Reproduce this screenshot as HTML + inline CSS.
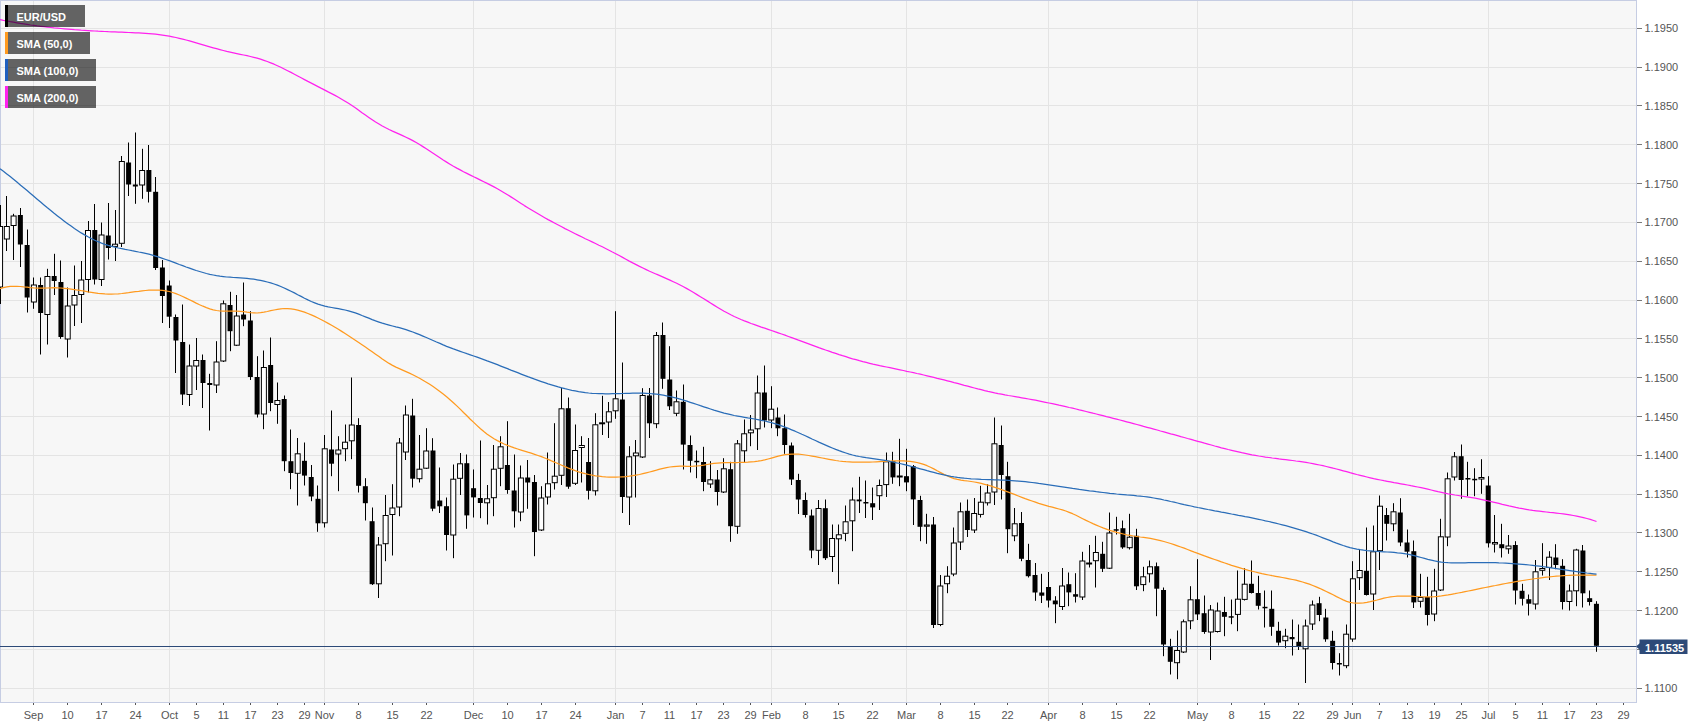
<!DOCTYPE html><html><head><meta charset="utf-8"><title>EUR/USD</title><style>
html,body{margin:0;padding:0;background:#fff;}body{width:1707px;height:728px;overflow:hidden;position:relative;font-family:"Liberation Sans",Arial,sans-serif;}
svg{position:absolute;left:0;top:0;}text{font-family:"Liberation Sans",Arial,sans-serif;}
.ax{font-size:11px;fill:#555;}.lg{font-size:11px;font-weight:bold;fill:#fff;}
</style></head><body>
<svg width="1707" height="728" viewBox="0 0 1707 728">
<rect x="0" y="0" width="1707" height="728" fill="#fff"/>
<rect x="0.5" y="0.5" width="1636" height="702" fill="#f7f7f7" stroke="#c6cde3" stroke-width="1"/>
<g stroke="#e4e4e4" stroke-width="1" shape-rendering="crispEdges">
<line x1="1" y1="28.5" x2="1636" y2="28.5"/>
<line x1="1" y1="67.5" x2="1636" y2="67.5"/>
<line x1="1" y1="105.5" x2="1636" y2="105.5"/>
<line x1="1" y1="144.5" x2="1636" y2="144.5"/>
<line x1="1" y1="183.5" x2="1636" y2="183.5"/>
<line x1="1" y1="222.5" x2="1636" y2="222.5"/>
<line x1="1" y1="261.5" x2="1636" y2="261.5"/>
<line x1="1" y1="300.5" x2="1636" y2="300.5"/>
<line x1="1" y1="338.5" x2="1636" y2="338.5"/>
<line x1="1" y1="377.5" x2="1636" y2="377.5"/>
<line x1="1" y1="416.5" x2="1636" y2="416.5"/>
<line x1="1" y1="455.5" x2="1636" y2="455.5"/>
<line x1="1" y1="494.5" x2="1636" y2="494.5"/>
<line x1="1" y1="532.5" x2="1636" y2="532.5"/>
<line x1="1" y1="571.5" x2="1636" y2="571.5"/>
<line x1="1" y1="610.5" x2="1636" y2="610.5"/>
<line x1="1" y1="649.5" x2="1636" y2="649.5"/>
<line x1="1" y1="688.5" x2="1636" y2="688.5"/>
<line x1="33.5" y1="1" x2="33.5" y2="702"/>
<line x1="169.5" y1="1" x2="169.5" y2="702"/>
<line x1="324.5" y1="1" x2="324.5" y2="702"/>
<line x1="473.5" y1="1" x2="473.5" y2="702"/>
<line x1="615.5" y1="1" x2="615.5" y2="702"/>
<line x1="771.5" y1="1" x2="771.5" y2="702"/>
<line x1="906.5" y1="1" x2="906.5" y2="702"/>
<line x1="1048.5" y1="1" x2="1048.5" y2="702"/>
<line x1="1197.5" y1="1" x2="1197.5" y2="702"/>
<line x1="1352.5" y1="1" x2="1352.5" y2="702"/>
<line x1="1488.5" y1="1" x2="1488.5" y2="702"/>
</g>
<g stroke="#7a7a7a" stroke-width="1" shape-rendering="crispEdges">
<line x1="1637" y1="28.5" x2="1642" y2="28.5"/>
<line x1="1637" y1="67.5" x2="1642" y2="67.5"/>
<line x1="1637" y1="105.5" x2="1642" y2="105.5"/>
<line x1="1637" y1="144.5" x2="1642" y2="144.5"/>
<line x1="1637" y1="183.5" x2="1642" y2="183.5"/>
<line x1="1637" y1="222.5" x2="1642" y2="222.5"/>
<line x1="1637" y1="261.5" x2="1642" y2="261.5"/>
<line x1="1637" y1="300.5" x2="1642" y2="300.5"/>
<line x1="1637" y1="338.5" x2="1642" y2="338.5"/>
<line x1="1637" y1="377.5" x2="1642" y2="377.5"/>
<line x1="1637" y1="416.5" x2="1642" y2="416.5"/>
<line x1="1637" y1="455.5" x2="1642" y2="455.5"/>
<line x1="1637" y1="494.5" x2="1642" y2="494.5"/>
<line x1="1637" y1="532.5" x2="1642" y2="532.5"/>
<line x1="1637" y1="571.5" x2="1642" y2="571.5"/>
<line x1="1637" y1="610.5" x2="1642" y2="610.5"/>
<line x1="1637" y1="649.5" x2="1642" y2="649.5"/>
<line x1="1637" y1="688.5" x2="1642" y2="688.5"/>
<line x1="33.5" y1="703" x2="33.5" y2="705" stroke="#555"/>
<line x1="67.5" y1="703" x2="67.5" y2="705" stroke="#555"/>
<line x1="101.5" y1="703" x2="101.5" y2="705" stroke="#555"/>
<line x1="135.5" y1="703" x2="135.5" y2="705" stroke="#555"/>
<line x1="169.5" y1="703" x2="169.5" y2="705" stroke="#555"/>
<line x1="196.5" y1="703" x2="196.5" y2="705" stroke="#555"/>
<line x1="223.5" y1="703" x2="223.5" y2="705" stroke="#555"/>
<line x1="250.5" y1="703" x2="250.5" y2="705" stroke="#555"/>
<line x1="277.5" y1="703" x2="277.5" y2="705" stroke="#555"/>
<line x1="304.5" y1="703" x2="304.5" y2="705" stroke="#555"/>
<line x1="324.5" y1="703" x2="324.5" y2="705" stroke="#555"/>
<line x1="358.5" y1="703" x2="358.5" y2="705" stroke="#555"/>
<line x1="392.5" y1="703" x2="392.5" y2="705" stroke="#555"/>
<line x1="426.5" y1="703" x2="426.5" y2="705" stroke="#555"/>
<line x1="473.5" y1="703" x2="473.5" y2="705" stroke="#555"/>
<line x1="507.5" y1="703" x2="507.5" y2="705" stroke="#555"/>
<line x1="541.5" y1="703" x2="541.5" y2="705" stroke="#555"/>
<line x1="575.5" y1="703" x2="575.5" y2="705" stroke="#555"/>
<line x1="615.5" y1="703" x2="615.5" y2="705" stroke="#555"/>
<line x1="642.5" y1="703" x2="642.5" y2="705" stroke="#555"/>
<line x1="669.5" y1="703" x2="669.5" y2="705" stroke="#555"/>
<line x1="696.5" y1="703" x2="696.5" y2="705" stroke="#555"/>
<line x1="723.5" y1="703" x2="723.5" y2="705" stroke="#555"/>
<line x1="750.5" y1="703" x2="750.5" y2="705" stroke="#555"/>
<line x1="771.5" y1="703" x2="771.5" y2="705" stroke="#555"/>
<line x1="805.5" y1="703" x2="805.5" y2="705" stroke="#555"/>
<line x1="838.5" y1="703" x2="838.5" y2="705" stroke="#555"/>
<line x1="872.5" y1="703" x2="872.5" y2="705" stroke="#555"/>
<line x1="906.5" y1="703" x2="906.5" y2="705" stroke="#555"/>
<line x1="940.5" y1="703" x2="940.5" y2="705" stroke="#555"/>
<line x1="974.5" y1="703" x2="974.5" y2="705" stroke="#555"/>
<line x1="1007.5" y1="703" x2="1007.5" y2="705" stroke="#555"/>
<line x1="1048.5" y1="703" x2="1048.5" y2="705" stroke="#555"/>
<line x1="1082.5" y1="703" x2="1082.5" y2="705" stroke="#555"/>
<line x1="1116.5" y1="703" x2="1116.5" y2="705" stroke="#555"/>
<line x1="1149.5" y1="703" x2="1149.5" y2="705" stroke="#555"/>
<line x1="1197.5" y1="703" x2="1197.5" y2="705" stroke="#555"/>
<line x1="1231.5" y1="703" x2="1231.5" y2="705" stroke="#555"/>
<line x1="1264.5" y1="703" x2="1264.5" y2="705" stroke="#555"/>
<line x1="1298.5" y1="703" x2="1298.5" y2="705" stroke="#555"/>
<line x1="1332.5" y1="703" x2="1332.5" y2="705" stroke="#555"/>
<line x1="1352.5" y1="703" x2="1352.5" y2="705" stroke="#555"/>
<line x1="1379.5" y1="703" x2="1379.5" y2="705" stroke="#555"/>
<line x1="1407.5" y1="703" x2="1407.5" y2="705" stroke="#555"/>
<line x1="1434.5" y1="703" x2="1434.5" y2="705" stroke="#555"/>
<line x1="1461.5" y1="703" x2="1461.5" y2="705" stroke="#555"/>
<line x1="1488.5" y1="703" x2="1488.5" y2="705" stroke="#555"/>
<line x1="1515.5" y1="703" x2="1515.5" y2="705" stroke="#555"/>
<line x1="1542.5" y1="703" x2="1542.5" y2="705" stroke="#555"/>
<line x1="1569.5" y1="703" x2="1569.5" y2="705" stroke="#555"/>
<line x1="1596.5" y1="703" x2="1596.5" y2="705" stroke="#555"/>
<line x1="1623.5" y1="703" x2="1623.5" y2="705" stroke="#555"/>
</g>
<g stroke="#000" stroke-width="1">
<line x1="0.5" y1="205.0" x2="0.5" y2="304.0"/>
<rect x="-2.43" y="226.5" width="5" height="60.5" fill="#fff"/>
<line x1="6.5" y1="196.0" x2="6.5" y2="251.0"/>
<rect x="4.33" y="226.5" width="5" height="12.5" fill="#fff"/>
<line x1="13.5" y1="213.8" x2="13.5" y2="260.0"/>
<rect x="11.10" y="216.0" width="5" height="9.5" fill="#fff"/>
<line x1="20.5" y1="208.0" x2="20.5" y2="267.0"/>
<rect x="17.86" y="215.0" width="5" height="29.5" fill="#000" stroke="none"/>
<line x1="27.5" y1="229.5" x2="27.5" y2="312.5"/>
<rect x="24.63" y="245.0" width="5" height="52.5" fill="#000" stroke="none"/>
<line x1="33.5" y1="277.5" x2="33.5" y2="308.8"/>
<rect x="31.39" y="285.0" width="5" height="17.0" fill="#fff"/>
<line x1="40.5" y1="277.5" x2="40.5" y2="354.5"/>
<rect x="38.15" y="285.0" width="5" height="28.0" fill="#000" stroke="none"/>
<line x1="47.5" y1="268.8" x2="47.5" y2="344.5"/>
<rect x="44.92" y="276.5" width="5" height="38.0" fill="#fff"/>
<line x1="54.5" y1="253.8" x2="54.5" y2="295.0"/>
<rect x="51.68" y="276.0" width="5" height="5.0" fill="#000" stroke="none"/>
<line x1="60.5" y1="260.5" x2="60.5" y2="338.8"/>
<rect x="58.45" y="282.0" width="5" height="55.0" fill="#000" stroke="none"/>
<line x1="67.5" y1="287.5" x2="67.5" y2="357.5"/>
<rect x="65.21" y="306.0" width="5" height="33.0" fill="#fff"/>
<line x1="74.5" y1="265.5" x2="74.5" y2="326.0"/>
<rect x="71.98" y="295.5" width="5" height="9.5" fill="#fff"/>
<line x1="81.5" y1="261.0" x2="81.5" y2="323.0"/>
<rect x="78.74" y="280.0" width="5" height="14.5" fill="#fff"/>
<line x1="88.5" y1="221.0" x2="88.5" y2="292.5"/>
<rect x="85.50" y="230.5" width="5" height="49.0" fill="#fff"/>
<line x1="94.5" y1="204.0" x2="94.5" y2="284.5"/>
<rect x="92.27" y="230.0" width="5" height="49.5" fill="#000" stroke="none"/>
<line x1="101.5" y1="222.5" x2="101.5" y2="286.0"/>
<rect x="99.03" y="235.0" width="5" height="44.5" fill="#fff"/>
<line x1="108.5" y1="203.0" x2="108.5" y2="259.5"/>
<rect x="105.80" y="235.5" width="5" height="12.5" fill="#000" stroke="none"/>
<line x1="115.5" y1="210.0" x2="115.5" y2="261.0"/>
<rect x="112.56" y="244.2" width="5" height="2.2" fill="#fff"/>
<line x1="121.5" y1="156.0" x2="121.5" y2="247.0"/>
<rect x="119.33" y="161.5" width="5" height="81.8" fill="#fff"/>
<line x1="128.5" y1="142.5" x2="128.5" y2="196.0"/>
<rect x="126.09" y="162.5" width="5" height="22.0" fill="#000" stroke="none"/>
<line x1="135.5" y1="132.5" x2="135.5" y2="203.8"/>
<rect x="132.85" y="184.5" width="5" height="2.0" fill="#000" stroke="none"/>
<line x1="142.5" y1="148.8" x2="142.5" y2="198.8"/>
<rect x="139.62" y="170.5" width="5" height="14.5" fill="#fff"/>
<line x1="148.5" y1="145.0" x2="148.5" y2="202.5"/>
<rect x="146.38" y="170.0" width="5" height="21.8" fill="#000" stroke="none"/>
<line x1="155.5" y1="177.0" x2="155.5" y2="270.0"/>
<rect x="153.15" y="191.8" width="5" height="76.2" fill="#000" stroke="none"/>
<line x1="162.5" y1="260.0" x2="162.5" y2="323.0"/>
<rect x="159.91" y="267.5" width="5" height="28.5" fill="#000" stroke="none"/>
<line x1="169.5" y1="280.5" x2="169.5" y2="328.0"/>
<rect x="166.68" y="285.5" width="5" height="31.2" fill="#000" stroke="none"/>
<line x1="175.5" y1="314.5" x2="175.5" y2="373.0"/>
<rect x="173.44" y="317.0" width="5" height="23.5" fill="#000" stroke="none"/>
<line x1="182.5" y1="304.5" x2="182.5" y2="405.0"/>
<rect x="180.20" y="342.0" width="5" height="52.5" fill="#000" stroke="none"/>
<line x1="189.5" y1="344.5" x2="189.5" y2="406.0"/>
<rect x="186.97" y="366.0" width="5" height="28.5" fill="#fff"/>
<line x1="196.5" y1="338.0" x2="196.5" y2="390.0"/>
<rect x="193.73" y="360.5" width="5" height="5.5" fill="#fff"/>
<line x1="202.5" y1="354.5" x2="202.5" y2="408.0"/>
<rect x="200.50" y="360.0" width="5" height="23.0" fill="#000" stroke="none"/>
<line x1="209.5" y1="373.8" x2="209.5" y2="430.5"/>
<rect x="207.26" y="383.0" width="5" height="2.0" fill="#000" stroke="none"/>
<line x1="216.5" y1="341.2" x2="216.5" y2="393.0"/>
<rect x="214.03" y="362.0" width="5" height="23.0" fill="#fff"/>
<line x1="223.5" y1="300.5" x2="223.5" y2="362.0"/>
<rect x="220.79" y="303.8" width="5" height="57.2" fill="#fff"/>
<line x1="230.5" y1="291.8" x2="230.5" y2="351.2"/>
<rect x="227.55" y="305.0" width="5" height="26.2" fill="#000" stroke="none"/>
<line x1="236.5" y1="295.0" x2="236.5" y2="346.0"/>
<rect x="234.32" y="316.0" width="5" height="29.2" fill="#fff"/>
<line x1="243.5" y1="282.5" x2="243.5" y2="326.2"/>
<rect x="241.08" y="314.5" width="5" height="5.0" fill="#000" stroke="none"/>
<line x1="250.5" y1="311.2" x2="250.5" y2="380.0"/>
<rect x="247.85" y="320.5" width="5" height="56.5" fill="#000" stroke="none"/>
<line x1="257.5" y1="356.2" x2="257.5" y2="417.5"/>
<rect x="254.61" y="377.0" width="5" height="37.5" fill="#000" stroke="none"/>
<line x1="263.5" y1="350.5" x2="263.5" y2="429.2"/>
<rect x="261.38" y="367.5" width="5" height="46.5" fill="#fff"/>
<line x1="270.5" y1="337.5" x2="270.5" y2="411.2"/>
<rect x="268.14" y="365.0" width="5" height="38.0" fill="#000" stroke="none"/>
<line x1="277.5" y1="382.5" x2="277.5" y2="423.8"/>
<rect x="274.90" y="400.5" width="5" height="4.0" fill="#fff"/>
<line x1="284.5" y1="395.5" x2="284.5" y2="471.2"/>
<rect x="281.67" y="399.0" width="5" height="62.2" fill="#000" stroke="none"/>
<line x1="290.5" y1="429.5" x2="290.5" y2="489.2"/>
<rect x="288.43" y="461.2" width="5" height="11.8" fill="#000" stroke="none"/>
<line x1="297.5" y1="438.0" x2="297.5" y2="505.5"/>
<rect x="295.20" y="453.8" width="5" height="19.5" fill="#fff"/>
<line x1="304.5" y1="442.5" x2="304.5" y2="485.5"/>
<rect x="301.96" y="460.8" width="5" height="14.8" fill="#000" stroke="none"/>
<line x1="311.5" y1="465.0" x2="311.5" y2="501.2"/>
<rect x="308.73" y="477.0" width="5" height="19.5" fill="#000" stroke="none"/>
<line x1="317.5" y1="485.5" x2="317.5" y2="531.8"/>
<rect x="315.49" y="498.8" width="5" height="24.5" fill="#000" stroke="none"/>
<line x1="324.5" y1="435.0" x2="324.5" y2="527.5"/>
<rect x="322.25" y="448.8" width="5" height="74.0" fill="#fff"/>
<line x1="331.5" y1="410.5" x2="331.5" y2="476.2"/>
<rect x="329.02" y="449.5" width="5" height="14.2" fill="#000" stroke="none"/>
<line x1="338.5" y1="436.2" x2="338.5" y2="491.2"/>
<rect x="335.78" y="450.0" width="5" height="4.0" fill="#fff"/>
<line x1="345.5" y1="424.5" x2="345.5" y2="461.2"/>
<rect x="342.55" y="442.2" width="5" height="6.5" fill="#fff"/>
<line x1="351.5" y1="377.5" x2="351.5" y2="459.2"/>
<rect x="349.31" y="425.0" width="5" height="15.8" fill="#fff"/>
<line x1="358.5" y1="418.2" x2="358.5" y2="492.5"/>
<rect x="356.08" y="425.0" width="5" height="60.8" fill="#000" stroke="none"/>
<line x1="365.5" y1="478.2" x2="365.5" y2="520.5"/>
<rect x="362.84" y="486.2" width="5" height="17.0" fill="#000" stroke="none"/>
<line x1="372.5" y1="507.5" x2="372.5" y2="585.0"/>
<rect x="369.61" y="521.2" width="5" height="63.0" fill="#000" stroke="none"/>
<line x1="378.5" y1="537.0" x2="378.5" y2="598.0"/>
<rect x="376.37" y="545.0" width="5" height="38.8" fill="#fff"/>
<line x1="385.5" y1="495.0" x2="385.5" y2="561.2"/>
<rect x="383.13" y="515.5" width="5" height="28.2" fill="#fff"/>
<line x1="392.5" y1="484.2" x2="392.5" y2="555.5"/>
<rect x="389.90" y="508.0" width="5" height="6.5" fill="#fff"/>
<line x1="399.5" y1="438.0" x2="399.5" y2="516.2"/>
<rect x="396.66" y="443.0" width="5" height="64.0" fill="#fff"/>
<line x1="405.5" y1="405.5" x2="405.5" y2="460.0"/>
<rect x="403.43" y="415.0" width="5" height="37.0" fill="#fff"/>
<line x1="412.5" y1="398.8" x2="412.5" y2="487.5"/>
<rect x="410.19" y="415.5" width="5" height="63.2" fill="#000" stroke="none"/>
<line x1="419.5" y1="435.0" x2="419.5" y2="482.5"/>
<rect x="416.96" y="469.2" width="5" height="9.5" fill="#fff"/>
<line x1="426.5" y1="428.2" x2="426.5" y2="469.0"/>
<rect x="423.72" y="451.0" width="5" height="17.2" fill="#fff"/>
<line x1="432.5" y1="438.2" x2="432.5" y2="511.2"/>
<rect x="430.48" y="450.5" width="5" height="58.2" fill="#000" stroke="none"/>
<line x1="439.5" y1="467.5" x2="439.5" y2="513.0"/>
<rect x="437.25" y="500.5" width="5" height="5.8" fill="#000" stroke="none"/>
<line x1="446.5" y1="497.5" x2="446.5" y2="550.5"/>
<rect x="444.01" y="506.2" width="5" height="28.8" fill="#000" stroke="none"/>
<line x1="453.5" y1="464.5" x2="453.5" y2="558.2"/>
<rect x="450.78" y="479.2" width="5" height="55.8" fill="#fff"/>
<line x1="460.5" y1="453.0" x2="460.5" y2="495.0"/>
<rect x="457.54" y="463.8" width="5" height="14.5" fill="#fff"/>
<line x1="466.5" y1="454.5" x2="466.5" y2="528.8"/>
<rect x="464.31" y="463.2" width="5" height="52.2" fill="#000" stroke="none"/>
<line x1="473.5" y1="469.5" x2="473.5" y2="517.5"/>
<rect x="471.07" y="488.2" width="5" height="9.2" fill="#000" stroke="none"/>
<line x1="480.5" y1="440.5" x2="480.5" y2="518.2"/>
<rect x="477.83" y="498.0" width="5" height="5.0" fill="#000" stroke="none"/>
<line x1="487.5" y1="485.0" x2="487.5" y2="524.5"/>
<rect x="484.60" y="498.8" width="5" height="4.0" fill="#fff"/>
<line x1="493.5" y1="445.0" x2="493.5" y2="516.2"/>
<rect x="491.36" y="469.2" width="5" height="28.5" fill="#fff"/>
<line x1="500.5" y1="436.2" x2="500.5" y2="486.2"/>
<rect x="498.13" y="446.8" width="5" height="21.5" fill="#fff"/>
<line x1="507.5" y1="421.2" x2="507.5" y2="493.8"/>
<rect x="504.89" y="465.0" width="5" height="25.0" fill="#000" stroke="none"/>
<line x1="514.5" y1="454.5" x2="514.5" y2="527.5"/>
<rect x="511.66" y="490.5" width="5" height="20.8" fill="#000" stroke="none"/>
<line x1="520.5" y1="465.5" x2="520.5" y2="521.2"/>
<rect x="518.42" y="478.0" width="5" height="34.0" fill="#fff"/>
<line x1="527.5" y1="460.0" x2="527.5" y2="508.8"/>
<rect x="525.18" y="477.5" width="5" height="5.0" fill="#000" stroke="none"/>
<line x1="534.5" y1="475.0" x2="534.5" y2="556.2"/>
<rect x="531.95" y="482.0" width="5" height="50.0" fill="#000" stroke="none"/>
<line x1="541.5" y1="486.2" x2="541.5" y2="531.0"/>
<rect x="538.71" y="498.0" width="5" height="32.0" fill="#fff"/>
<line x1="547.5" y1="452.5" x2="547.5" y2="504.5"/>
<rect x="545.48" y="483.8" width="5" height="13.2" fill="#fff"/>
<line x1="554.5" y1="423.2" x2="554.5" y2="489.5"/>
<rect x="552.24" y="476.2" width="5" height="6.5" fill="#fff"/>
<line x1="561.5" y1="388.0" x2="561.5" y2="485.0"/>
<rect x="559.01" y="408.8" width="5" height="66.5" fill="#fff"/>
<line x1="568.5" y1="397.5" x2="568.5" y2="488.8"/>
<rect x="565.77" y="408.2" width="5" height="78.5" fill="#000" stroke="none"/>
<line x1="575.5" y1="424.5" x2="575.5" y2="485.0"/>
<rect x="572.53" y="450.5" width="5" height="32.8" fill="#fff"/>
<line x1="581.5" y1="436.2" x2="581.5" y2="482.5"/>
<rect x="579.30" y="445.5" width="5" height="2.0" fill="#fff"/>
<line x1="588.5" y1="438.0" x2="588.5" y2="499.5"/>
<rect x="586.06" y="462.0" width="5" height="28.8" fill="#000" stroke="none"/>
<line x1="595.5" y1="413.2" x2="595.5" y2="495.5"/>
<rect x="592.83" y="424.8" width="5" height="66.0" fill="#fff"/>
<line x1="602.5" y1="395.8" x2="602.5" y2="435.0"/>
<rect x="599.59" y="422.8" width="5" height="1.0" fill="#fff"/>
<line x1="608.5" y1="402.0" x2="608.5" y2="438.0"/>
<rect x="606.36" y="411.8" width="5" height="10.2" fill="#fff"/>
<line x1="615.5" y1="311.2" x2="615.5" y2="418.8"/>
<rect x="613.12" y="398.8" width="5" height="12.0" fill="#fff"/>
<line x1="622.5" y1="362.5" x2="622.5" y2="513.0"/>
<rect x="619.88" y="399.5" width="5" height="97.5" fill="#000" stroke="none"/>
<line x1="629.5" y1="446.2" x2="629.5" y2="525.0"/>
<rect x="626.65" y="456.8" width="5" height="40.2" fill="#fff"/>
<line x1="635.5" y1="440.0" x2="635.5" y2="497.5"/>
<rect x="633.41" y="453.0" width="5" height="2.8" fill="#fff"/>
<line x1="642.5" y1="388.2" x2="642.5" y2="458.0"/>
<rect x="640.18" y="395.5" width="5" height="61.5" fill="#fff"/>
<line x1="649.5" y1="388.0" x2="649.5" y2="438.0"/>
<rect x="646.94" y="395.5" width="5" height="27.8" fill="#000" stroke="none"/>
<line x1="656.5" y1="332.0" x2="656.5" y2="428.2"/>
<rect x="653.71" y="335.5" width="5" height="88.2" fill="#fff"/>
<line x1="662.5" y1="322.5" x2="662.5" y2="388.8"/>
<rect x="660.47" y="335.0" width="5" height="43.8" fill="#000" stroke="none"/>
<line x1="669.5" y1="346.2" x2="669.5" y2="410.0"/>
<rect x="667.23" y="379.5" width="5" height="26.8" fill="#000" stroke="none"/>
<line x1="676.5" y1="390.5" x2="676.5" y2="416.2"/>
<rect x="674.00" y="401.8" width="5" height="11.5" fill="#fff"/>
<line x1="683.5" y1="384.5" x2="683.5" y2="469.5"/>
<rect x="680.76" y="401.8" width="5" height="42.8" fill="#000" stroke="none"/>
<line x1="690.5" y1="435.5" x2="690.5" y2="472.5"/>
<rect x="687.53" y="445.0" width="5" height="15.8" fill="#000" stroke="none"/>
<line x1="696.5" y1="450.5" x2="696.5" y2="478.2"/>
<rect x="694.29" y="460.8" width="5" height="1.5" fill="#000" stroke="none"/>
<line x1="703.5" y1="446.8" x2="703.5" y2="491.2"/>
<rect x="701.06" y="462.0" width="5" height="20.0" fill="#000" stroke="none"/>
<line x1="710.5" y1="461.2" x2="710.5" y2="488.0"/>
<rect x="707.82" y="479.8" width="5" height="4.2" fill="#fff"/>
<line x1="717.5" y1="470.0" x2="717.5" y2="505.5"/>
<rect x="714.58" y="479.5" width="5" height="12.5" fill="#000" stroke="none"/>
<line x1="723.5" y1="458.2" x2="723.5" y2="493.0"/>
<rect x="721.35" y="468.8" width="5" height="23.2" fill="#fff"/>
<line x1="730.5" y1="461.8" x2="730.5" y2="541.8"/>
<rect x="728.11" y="469.2" width="5" height="57.0" fill="#000" stroke="none"/>
<line x1="737.5" y1="440.0" x2="737.5" y2="533.8"/>
<rect x="734.88" y="443.8" width="5" height="82.5" fill="#fff"/>
<line x1="744.5" y1="419.5" x2="744.5" y2="462.0"/>
<rect x="741.64" y="433.8" width="5" height="17.0" fill="#fff"/>
<line x1="750.5" y1="415.0" x2="750.5" y2="446.2"/>
<rect x="748.41" y="430.0" width="5" height="2.8" fill="#fff"/>
<line x1="757.5" y1="375.5" x2="757.5" y2="450.0"/>
<rect x="755.17" y="393.0" width="5" height="35.8" fill="#fff"/>
<line x1="764.5" y1="365.5" x2="764.5" y2="427.5"/>
<rect x="761.93" y="392.5" width="5" height="28.0" fill="#000" stroke="none"/>
<line x1="771.5" y1="386.2" x2="771.5" y2="428.2"/>
<rect x="768.70" y="409.2" width="5" height="10.8" fill="#fff"/>
<line x1="777.5" y1="407.5" x2="777.5" y2="436.2"/>
<rect x="775.46" y="417.5" width="5" height="10.8" fill="#000" stroke="none"/>
<line x1="784.5" y1="414.5" x2="784.5" y2="453.8"/>
<rect x="782.23" y="428.2" width="5" height="16.8" fill="#000" stroke="none"/>
<line x1="791.5" y1="442.5" x2="791.5" y2="485.0"/>
<rect x="788.99" y="445.5" width="5" height="34.0" fill="#000" stroke="none"/>
<line x1="798.5" y1="473.8" x2="798.5" y2="514.0"/>
<rect x="795.76" y="480.0" width="5" height="19.5" fill="#000" stroke="none"/>
<line x1="805.5" y1="492.5" x2="805.5" y2="517.5"/>
<rect x="802.52" y="500.0" width="5" height="15.0" fill="#000" stroke="none"/>
<line x1="811.5" y1="509.5" x2="811.5" y2="558.2"/>
<rect x="809.28" y="515.5" width="5" height="35.0" fill="#000" stroke="none"/>
<line x1="818.5" y1="500.0" x2="818.5" y2="565.0"/>
<rect x="816.05" y="508.5" width="5" height="41.8" fill="#fff"/>
<line x1="825.5" y1="499.5" x2="825.5" y2="560.0"/>
<rect x="822.81" y="508.2" width="5" height="50.0" fill="#000" stroke="none"/>
<line x1="832.5" y1="524.5" x2="832.5" y2="572.0"/>
<rect x="829.58" y="538.5" width="5" height="18.0" fill="#fff"/>
<line x1="838.5" y1="524.5" x2="838.5" y2="584.2"/>
<rect x="836.34" y="534.8" width="5" height="4.0" fill="#fff"/>
<line x1="845.5" y1="505.5" x2="845.5" y2="541.2"/>
<rect x="843.11" y="521.8" width="5" height="11.5" fill="#fff"/>
<line x1="852.5" y1="487.5" x2="852.5" y2="551.2"/>
<rect x="849.87" y="500.0" width="5" height="20.8" fill="#fff"/>
<line x1="859.5" y1="476.8" x2="859.5" y2="513.0"/>
<rect x="856.63" y="499.5" width="5" height="1.8" fill="#000" stroke="none"/>
<line x1="865.5" y1="480.5" x2="865.5" y2="518.0"/>
<rect x="863.40" y="502.0" width="5" height="1.5" fill="#000" stroke="none"/>
<line x1="872.5" y1="487.5" x2="872.5" y2="520.0"/>
<rect x="870.16" y="503.2" width="5" height="4.2" fill="#000" stroke="none"/>
<line x1="879.5" y1="479.5" x2="879.5" y2="510.0"/>
<rect x="876.93" y="485.5" width="5" height="10.2" fill="#fff"/>
<line x1="886.5" y1="452.5" x2="886.5" y2="497.0"/>
<rect x="883.69" y="461.8" width="5" height="22.8" fill="#fff"/>
<line x1="892.5" y1="451.8" x2="892.5" y2="483.8"/>
<rect x="890.46" y="461.2" width="5" height="16.2" fill="#000" stroke="none"/>
<line x1="899.5" y1="438.8" x2="899.5" y2="486.2"/>
<rect x="897.22" y="476.0" width="5" height="1.0" fill="#fff"/>
<line x1="906.5" y1="448.8" x2="906.5" y2="491.2"/>
<rect x="903.98" y="476.2" width="5" height="6.2" fill="#000" stroke="none"/>
<line x1="913.5" y1="465.0" x2="913.5" y2="525.0"/>
<rect x="910.75" y="466.2" width="5" height="33.2" fill="#000" stroke="none"/>
<line x1="920.5" y1="495.8" x2="920.5" y2="541.2"/>
<rect x="917.51" y="500.0" width="5" height="26.8" fill="#000" stroke="none"/>
<line x1="926.5" y1="513.8" x2="926.5" y2="543.8"/>
<rect x="924.28" y="525.0" width="5" height="1.2" fill="#fff"/>
<line x1="933.5" y1="517.0" x2="933.5" y2="628.0"/>
<rect x="931.04" y="524.5" width="5" height="100.5" fill="#000" stroke="none"/>
<line x1="940.5" y1="575.0" x2="940.5" y2="626.2"/>
<rect x="937.81" y="586.0" width="5" height="38.5" fill="#fff"/>
<line x1="947.5" y1="566.2" x2="947.5" y2="593.2"/>
<rect x="944.57" y="576.2" width="5" height="7.5" fill="#fff"/>
<line x1="953.5" y1="527.5" x2="953.5" y2="576.2"/>
<rect x="951.33" y="543.0" width="5" height="31.0" fill="#fff"/>
<line x1="960.5" y1="502.5" x2="960.5" y2="550.0"/>
<rect x="958.10" y="511.8" width="5" height="30.2" fill="#fff"/>
<line x1="967.5" y1="499.5" x2="967.5" y2="537.0"/>
<rect x="964.86" y="510.8" width="5" height="19.2" fill="#000" stroke="none"/>
<line x1="974.5" y1="498.0" x2="974.5" y2="533.0"/>
<rect x="971.63" y="513.5" width="5" height="16.5" fill="#fff"/>
<line x1="980.5" y1="485.8" x2="980.5" y2="517.5"/>
<rect x="978.39" y="502.2" width="5" height="12.2" fill="#fff"/>
<line x1="987.5" y1="484.2" x2="987.5" y2="505.5"/>
<rect x="985.16" y="493.0" width="5" height="9.8" fill="#fff"/>
<line x1="994.5" y1="417.5" x2="994.5" y2="505.0"/>
<rect x="991.92" y="443.8" width="5" height="48.2" fill="#fff"/>
<line x1="1001.5" y1="425.5" x2="1001.5" y2="499.5"/>
<rect x="998.68" y="445.0" width="5" height="30.0" fill="#000" stroke="none"/>
<line x1="1007.5" y1="461.8" x2="1007.5" y2="553.2"/>
<rect x="1005.45" y="476.2" width="5" height="53.0" fill="#000" stroke="none"/>
<line x1="1014.5" y1="508.0" x2="1014.5" y2="541.2"/>
<rect x="1012.21" y="523.8" width="5" height="12.0" fill="#fff"/>
<line x1="1021.5" y1="512.0" x2="1021.5" y2="561.2"/>
<rect x="1018.98" y="523.0" width="5" height="35.8" fill="#000" stroke="none"/>
<line x1="1028.5" y1="543.8" x2="1028.5" y2="577.5"/>
<rect x="1025.74" y="560.0" width="5" height="16.2" fill="#000" stroke="none"/>
<line x1="1035.5" y1="563.0" x2="1035.5" y2="600.8"/>
<rect x="1032.51" y="575.0" width="5" height="17.5" fill="#000" stroke="none"/>
<line x1="1041.5" y1="573.8" x2="1041.5" y2="603.0"/>
<rect x="1039.27" y="592.5" width="5" height="3.2" fill="#000" stroke="none"/>
<line x1="1048.5" y1="572.0" x2="1048.5" y2="607.5"/>
<rect x="1046.04" y="587.0" width="5" height="13.5" fill="#000" stroke="none"/>
<line x1="1055.5" y1="596.2" x2="1055.5" y2="623.2"/>
<rect x="1052.80" y="600.5" width="5" height="3.8" fill="#000" stroke="none"/>
<line x1="1062.5" y1="568.0" x2="1062.5" y2="610.0"/>
<rect x="1059.56" y="586.0" width="5" height="20.5" fill="#fff"/>
<line x1="1068.5" y1="572.5" x2="1068.5" y2="606.2"/>
<rect x="1066.33" y="584.2" width="5" height="8.2" fill="#000" stroke="none"/>
<line x1="1075.5" y1="573.2" x2="1075.5" y2="602.5"/>
<rect x="1073.09" y="594.2" width="5" height="2.5" fill="#000" stroke="none"/>
<line x1="1082.5" y1="551.8" x2="1082.5" y2="600.0"/>
<rect x="1079.86" y="561.0" width="5" height="36.0" fill="#fff"/>
<line x1="1089.5" y1="545.0" x2="1089.5" y2="567.5"/>
<rect x="1086.62" y="563.0" width="5" height="1.0" fill="#fff"/>
<line x1="1095.5" y1="535.8" x2="1095.5" y2="587.5"/>
<rect x="1093.39" y="552.5" width="5" height="8.2" fill="#fff"/>
<line x1="1102.5" y1="541.8" x2="1102.5" y2="572.0"/>
<rect x="1100.15" y="553.8" width="5" height="15.0" fill="#000" stroke="none"/>
<line x1="1109.5" y1="512.5" x2="1109.5" y2="569.0"/>
<rect x="1106.91" y="533.0" width="5" height="35.2" fill="#fff"/>
<line x1="1116.5" y1="516.8" x2="1116.5" y2="534.5"/>
<rect x="1113.68" y="529.2" width="5" height="1.5" fill="#000" stroke="none"/>
<line x1="1122.5" y1="520.5" x2="1122.5" y2="548.8"/>
<rect x="1120.44" y="528.2" width="5" height="19.2" fill="#000" stroke="none"/>
<line x1="1129.5" y1="513.8" x2="1129.5" y2="549.5"/>
<rect x="1127.21" y="537.2" width="5" height="10.5" fill="#fff"/>
<line x1="1136.5" y1="528.8" x2="1136.5" y2="590.0"/>
<rect x="1133.97" y="535.8" width="5" height="50.5" fill="#000" stroke="none"/>
<line x1="1143.5" y1="566.8" x2="1143.5" y2="591.2"/>
<rect x="1140.74" y="576.8" width="5" height="7.8" fill="#fff"/>
<line x1="1149.5" y1="560.5" x2="1149.5" y2="582.5"/>
<rect x="1147.50" y="566.8" width="5" height="7.0" fill="#fff"/>
<line x1="1156.5" y1="562.5" x2="1156.5" y2="616.2"/>
<rect x="1154.26" y="566.2" width="5" height="22.5" fill="#000" stroke="none"/>
<line x1="1163.5" y1="587.5" x2="1163.5" y2="656.2"/>
<rect x="1161.03" y="590.0" width="5" height="54.5" fill="#000" stroke="none"/>
<line x1="1170.5" y1="638.8" x2="1170.5" y2="674.5"/>
<rect x="1167.79" y="647.0" width="5" height="14.8" fill="#000" stroke="none"/>
<line x1="1177.5" y1="630.5" x2="1177.5" y2="679.2"/>
<rect x="1174.56" y="650.5" width="5" height="12.2" fill="#fff"/>
<line x1="1183.5" y1="619.5" x2="1183.5" y2="653.0"/>
<rect x="1181.32" y="621.8" width="5" height="30.2" fill="#fff"/>
<line x1="1190.5" y1="586.2" x2="1190.5" y2="629.2"/>
<rect x="1188.09" y="599.8" width="5" height="21.0" fill="#fff"/>
<line x1="1197.5" y1="559.2" x2="1197.5" y2="620.0"/>
<rect x="1194.85" y="599.2" width="5" height="15.2" fill="#000" stroke="none"/>
<line x1="1204.5" y1="595.5" x2="1204.5" y2="633.8"/>
<rect x="1201.61" y="613.2" width="5" height="18.8" fill="#000" stroke="none"/>
<line x1="1210.5" y1="605.0" x2="1210.5" y2="660.0"/>
<rect x="1208.38" y="610.0" width="5" height="22.0" fill="#fff"/>
<line x1="1217.5" y1="602.5" x2="1217.5" y2="632.5"/>
<rect x="1215.14" y="611.0" width="5" height="20.5" fill="#fff"/>
<line x1="1224.5" y1="596.8" x2="1224.5" y2="636.2"/>
<rect x="1221.91" y="612.0" width="5" height="4.8" fill="#000" stroke="none"/>
<line x1="1231.5" y1="599.5" x2="1231.5" y2="624.2"/>
<rect x="1228.67" y="616.2" width="5" height="1.5" fill="#000" stroke="none"/>
<line x1="1237.5" y1="570.5" x2="1237.5" y2="631.2"/>
<rect x="1235.44" y="599.2" width="5" height="15.2" fill="#fff"/>
<line x1="1244.5" y1="568.2" x2="1244.5" y2="600.5"/>
<rect x="1242.20" y="584.2" width="5" height="15.2" fill="#fff"/>
<line x1="1251.5" y1="560.5" x2="1251.5" y2="593.5"/>
<rect x="1248.96" y="583.8" width="5" height="9.2" fill="#000" stroke="none"/>
<line x1="1258.5" y1="575.8" x2="1258.5" y2="609.5"/>
<rect x="1255.73" y="593.0" width="5" height="12.8" fill="#000" stroke="none"/>
<line x1="1264.5" y1="590.5" x2="1264.5" y2="627.5"/>
<rect x="1262.49" y="606.8" width="5" height="1.5" fill="#000" stroke="none"/>
<line x1="1271.5" y1="590.5" x2="1271.5" y2="635.8"/>
<rect x="1269.26" y="608.8" width="5" height="18.0" fill="#000" stroke="none"/>
<line x1="1278.5" y1="621.8" x2="1278.5" y2="645.5"/>
<rect x="1276.02" y="630.8" width="5" height="11.8" fill="#000" stroke="none"/>
<line x1="1285.5" y1="628.8" x2="1285.5" y2="648.2"/>
<rect x="1282.79" y="636.2" width="5" height="4.5" fill="#fff"/>
<line x1="1292.5" y1="619.5" x2="1292.5" y2="655.5"/>
<rect x="1289.55" y="637.0" width="5" height="2.2" fill="#000" stroke="none"/>
<line x1="1298.5" y1="624.5" x2="1298.5" y2="650.0"/>
<rect x="1296.31" y="641.8" width="5" height="5.0" fill="#000" stroke="none"/>
<line x1="1305.5" y1="619.5" x2="1305.5" y2="683.0"/>
<rect x="1303.08" y="626.0" width="5" height="22.8" fill="#fff"/>
<line x1="1312.5" y1="600.5" x2="1312.5" y2="630.0"/>
<rect x="1309.84" y="605.0" width="5" height="19.0" fill="#fff"/>
<line x1="1319.5" y1="596.8" x2="1319.5" y2="621.2"/>
<rect x="1316.61" y="603.2" width="5" height="11.8" fill="#000" stroke="none"/>
<line x1="1325.5" y1="608.8" x2="1325.5" y2="641.8"/>
<rect x="1323.37" y="617.5" width="5" height="21.8" fill="#000" stroke="none"/>
<line x1="1332.5" y1="630.8" x2="1332.5" y2="669.5"/>
<rect x="1330.14" y="640.8" width="5" height="22.2" fill="#000" stroke="none"/>
<line x1="1339.5" y1="653.2" x2="1339.5" y2="675.5"/>
<rect x="1336.90" y="663.0" width="5" height="1.5" fill="#000" stroke="none"/>
<line x1="1346.5" y1="624.5" x2="1346.5" y2="668.2"/>
<rect x="1343.66" y="634.2" width="5" height="31.5" fill="#fff"/>
<line x1="1352.5" y1="561.2" x2="1352.5" y2="641.8"/>
<rect x="1350.43" y="578.8" width="5" height="60.2" fill="#fff"/>
<line x1="1359.5" y1="549.5" x2="1359.5" y2="590.0"/>
<rect x="1357.19" y="570.5" width="5" height="7.2" fill="#fff"/>
<line x1="1366.5" y1="527.5" x2="1366.5" y2="595.5"/>
<rect x="1363.96" y="570.8" width="5" height="24.2" fill="#000" stroke="none"/>
<line x1="1373.5" y1="525.5" x2="1373.5" y2="610.0"/>
<rect x="1370.72" y="551.8" width="5" height="42.2" fill="#fff"/>
<line x1="1379.5" y1="495.5" x2="1379.5" y2="570.0"/>
<rect x="1377.49" y="506.2" width="5" height="44.5" fill="#fff"/>
<line x1="1386.5" y1="508.0" x2="1386.5" y2="540.5"/>
<rect x="1384.25" y="515.0" width="5" height="8.8" fill="#000" stroke="none"/>
<line x1="1393.5" y1="503.2" x2="1393.5" y2="531.2"/>
<rect x="1391.01" y="511.8" width="5" height="12.0" fill="#fff"/>
<line x1="1400.5" y1="498.2" x2="1400.5" y2="546.2"/>
<rect x="1397.78" y="512.5" width="5" height="30.0" fill="#000" stroke="none"/>
<line x1="1407.5" y1="529.5" x2="1407.5" y2="557.5"/>
<rect x="1404.54" y="542.5" width="5" height="9.2" fill="#000" stroke="none"/>
<line x1="1413.5" y1="540.5" x2="1413.5" y2="608.0"/>
<rect x="1411.31" y="551.2" width="5" height="51.2" fill="#000" stroke="none"/>
<line x1="1420.5" y1="573.8" x2="1420.5" y2="607.5"/>
<rect x="1418.07" y="597.5" width="5" height="3.8" fill="#fff"/>
<line x1="1427.5" y1="576.8" x2="1427.5" y2="625.5"/>
<rect x="1424.84" y="597.0" width="5" height="18.0" fill="#000" stroke="none"/>
<line x1="1434.5" y1="568.8" x2="1434.5" y2="621.2"/>
<rect x="1431.60" y="591.0" width="5" height="23.0" fill="#fff"/>
<line x1="1440.5" y1="518.8" x2="1440.5" y2="591.0"/>
<rect x="1438.36" y="536.8" width="5" height="53.2" fill="#fff"/>
<line x1="1447.5" y1="472.5" x2="1447.5" y2="546.2"/>
<rect x="1445.13" y="478.8" width="5" height="58.2" fill="#fff"/>
<line x1="1454.5" y1="452.0" x2="1454.5" y2="480.5"/>
<rect x="1451.89" y="456.8" width="5" height="20.2" fill="#fff"/>
<line x1="1461.5" y1="444.5" x2="1461.5" y2="498.8"/>
<rect x="1458.66" y="456.2" width="5" height="23.8" fill="#000" stroke="none"/>
<line x1="1467.5" y1="461.8" x2="1467.5" y2="496.2"/>
<rect x="1465.42" y="478.0" width="5" height="1.5" fill="#000" stroke="none"/>
<line x1="1474.5" y1="468.2" x2="1474.5" y2="496.2"/>
<rect x="1472.19" y="478.8" width="5" height="1.5" fill="#000" stroke="none"/>
<line x1="1481.5" y1="459.2" x2="1481.5" y2="493.8"/>
<rect x="1478.95" y="477.5" width="5" height="1.5" fill="#fff"/>
<line x1="1488.5" y1="476.2" x2="1488.5" y2="547.5"/>
<rect x="1485.71" y="485.5" width="5" height="57.8" fill="#000" stroke="none"/>
<line x1="1494.5" y1="515.0" x2="1494.5" y2="552.5"/>
<rect x="1492.48" y="542.5" width="5" height="1.5" fill="#fff"/>
<line x1="1501.5" y1="523.8" x2="1501.5" y2="557.5"/>
<rect x="1499.24" y="544.2" width="5" height="4.0" fill="#000" stroke="none"/>
<line x1="1508.5" y1="535.0" x2="1508.5" y2="553.8"/>
<rect x="1506.01" y="546.0" width="5" height="2.8" fill="#fff"/>
<line x1="1515.5" y1="541.2" x2="1515.5" y2="604.5"/>
<rect x="1512.77" y="545.0" width="5" height="45.5" fill="#000" stroke="none"/>
<line x1="1522.5" y1="583.8" x2="1522.5" y2="605.5"/>
<rect x="1519.54" y="590.8" width="5" height="8.0" fill="#000" stroke="none"/>
<line x1="1528.5" y1="594.5" x2="1528.5" y2="615.5"/>
<rect x="1526.30" y="599.2" width="5" height="4.5" fill="#000" stroke="none"/>
<line x1="1535.5" y1="560.0" x2="1535.5" y2="609.5"/>
<rect x="1533.06" y="571.8" width="5" height="32.2" fill="#fff"/>
<line x1="1542.5" y1="543.2" x2="1542.5" y2="575.5"/>
<rect x="1539.83" y="568.5" width="5" height="1.8" fill="#fff"/>
<line x1="1549.5" y1="551.2" x2="1549.5" y2="580.0"/>
<rect x="1546.59" y="557.2" width="5" height="10.2" fill="#fff"/>
<line x1="1555.5" y1="544.2" x2="1555.5" y2="569.2"/>
<rect x="1553.36" y="557.5" width="5" height="7.5" fill="#000" stroke="none"/>
<line x1="1562.5" y1="559.2" x2="1562.5" y2="609.5"/>
<rect x="1560.12" y="565.8" width="5" height="36.2" fill="#000" stroke="none"/>
<line x1="1569.5" y1="584.5" x2="1569.5" y2="610.5"/>
<rect x="1566.89" y="591.0" width="5" height="10.5" fill="#fff"/>
<line x1="1576.5" y1="548.8" x2="1576.5" y2="606.2"/>
<rect x="1573.65" y="550.0" width="5" height="40.8" fill="#fff"/>
<line x1="1582.5" y1="545.0" x2="1582.5" y2="607.5"/>
<rect x="1580.41" y="550.5" width="5" height="42.8" fill="#000" stroke="none"/>
<line x1="1589.5" y1="590.5" x2="1589.5" y2="605.5"/>
<rect x="1587.18" y="598.2" width="5" height="3.8" fill="#000" stroke="none"/>
<line x1="1596.5" y1="601.2" x2="1596.5" y2="651.8"/>
<rect x="1593.94" y="603.8" width="5" height="42.0" fill="#000" stroke="none"/>
</g>
<polyline fill="none" stroke="#ff9a1f" stroke-width="1.25" stroke-linejoin="round" points="0.0,288.7 3.4,287.6 6.8,286.9 10.2,286.4 13.5,286.3 16.9,286.3 20.3,286.5 23.7,286.9 27.1,287.2 30.5,287.6 33.8,287.9 37.2,288.1 40.6,288.2 44.0,288.1 47.4,288.0 50.8,287.8 54.1,287.7 57.5,287.8 60.9,288.0 64.3,288.3 67.7,288.6 71.1,289.1 74.4,289.6 77.8,290.1 81.2,290.7 84.6,291.2 88.0,291.8 91.4,292.3 94.7,292.8 98.1,293.3 101.5,293.6 104.9,293.9 108.3,294.1 111.7,294.1 115.0,294.0 118.4,293.8 121.8,293.5 125.2,293.1 128.6,292.7 132.0,292.2 135.3,291.7 138.7,291.3 142.1,290.8 145.5,290.5 148.9,290.2 152.3,290.0 155.6,290.0 159.0,290.1 162.4,290.4 165.8,290.8 169.2,291.5 172.6,292.5 175.9,293.7 179.3,295.0 182.7,296.5 186.1,298.1 189.5,299.7 192.9,301.4 196.2,303.1 199.6,304.7 203.0,306.2 206.4,307.6 209.8,308.8 213.2,309.8 216.5,310.5 219.9,311.0 223.3,311.2 226.7,311.2 230.1,311.2 233.5,311.1 236.8,311.1 240.2,311.3 243.6,311.7 247.0,312.2 250.4,312.6 253.8,312.9 257.1,313.0 260.5,312.7 263.9,312.2 267.3,311.5 270.7,310.7 274.1,310.0 277.4,309.3 280.8,308.8 284.2,308.5 287.6,308.6 291.0,308.9 294.4,309.4 297.7,310.1 301.1,311.1 304.5,312.2 307.9,313.5 311.3,314.9 314.7,316.4 318.0,318.0 321.4,319.7 324.8,321.5 328.2,323.4 331.6,325.3 335.0,327.3 338.4,329.3 341.7,331.4 345.1,333.5 348.5,335.7 351.9,337.9 355.3,340.2 358.7,342.5 362.0,344.8 365.4,347.1 368.8,349.4 372.2,351.8 375.6,354.2 379.0,356.5 382.3,358.9 385.7,361.2 389.1,363.4 392.5,365.4 395.9,367.1 399.3,368.6 402.6,370.1 406.0,371.6 409.4,373.1 412.8,374.7 416.2,376.5 419.6,378.3 422.9,380.2 426.3,382.2 429.7,384.3 433.1,386.6 436.5,388.9 439.9,391.4 443.2,394.0 446.6,396.8 450.0,399.7 453.4,402.7 456.8,405.9 460.2,409.1 463.5,412.5 466.9,415.8 470.3,419.2 473.7,422.4 477.1,425.6 480.5,428.7 483.8,431.5 487.2,434.2 490.6,436.5 494.0,438.7 497.4,440.6 500.8,442.4 504.1,444.0 507.5,445.4 510.9,446.7 514.3,447.9 517.7,449.0 521.1,450.1 524.4,451.1 527.8,452.2 531.2,453.2 534.6,454.3 538.0,455.5 541.4,456.7 544.7,458.0 548.1,459.4 551.5,460.9 554.9,462.3 558.3,463.8 561.7,465.3 565.0,466.7 568.4,468.1 571.8,469.4 575.2,470.7 578.6,471.8 582.0,472.8 585.3,473.7 588.7,474.5 592.1,475.2 595.5,475.8 598.9,476.2 602.3,476.6 605.6,476.9 609.0,477.1 612.4,477.2 615.8,477.2 619.2,477.0 622.6,476.8 625.9,476.6 629.3,476.2 632.7,475.7 636.1,475.1 639.5,474.5 642.9,473.7 646.2,472.9 649.6,472.0 653.0,471.1 656.4,470.2 659.8,469.2 663.2,468.4 666.5,467.6 669.9,467.0 673.3,466.6 676.7,466.3 680.1,466.2 683.5,466.2 686.9,466.3 690.2,466.3 693.6,466.2 697.0,466.0 700.4,465.6 703.8,465.1 707.2,464.5 710.5,463.9 713.9,463.4 717.3,463.1 720.7,462.8 724.1,462.6 727.5,462.6 730.8,462.5 734.2,462.5 737.6,462.5 741.0,462.4 744.4,462.3 747.8,462.2 751.1,461.9 754.5,461.6 757.9,461.2 761.3,460.6 764.7,459.9 768.1,459.0 771.4,458.1 774.8,457.1 778.2,456.2 781.6,455.4 785.0,454.7 788.4,454.3 791.7,454.1 795.1,454.1 798.5,454.2 801.9,454.5 805.3,455.0 808.7,455.5 812.0,456.1 815.4,456.7 818.8,457.3 822.2,458.0 825.6,458.7 829.0,459.3 832.3,459.9 835.7,460.5 839.1,461.0 842.5,461.4 845.9,461.7 849.3,461.9 852.6,462.1 856.0,462.2 859.4,462.2 862.8,462.2 866.2,462.2 869.6,462.1 872.9,462.0 876.3,461.8 879.7,461.6 883.1,461.4 886.5,461.3 889.9,461.1 893.2,460.9 896.6,460.8 900.0,460.8 903.4,460.9 906.8,461.1 910.2,461.4 913.5,461.8 916.9,462.5 920.3,463.3 923.7,464.4 927.1,465.7 930.5,467.2 933.8,468.9 937.2,470.8 940.6,472.6 944.0,474.4 947.4,476.0 950.8,477.4 954.1,478.6 957.5,479.4 960.9,480.1 964.3,480.6 967.7,481.0 971.1,481.5 974.4,482.0 977.8,482.7 981.2,483.4 984.6,484.3 988.0,485.2 991.4,486.2 994.7,487.3 998.1,488.4 1001.5,489.6 1004.9,490.8 1008.3,492.1 1011.7,493.4 1015.1,494.7 1018.4,496.0 1021.8,497.3 1025.2,498.6 1028.6,499.8 1032.0,501.0 1035.4,502.2 1038.7,503.4 1042.1,504.4 1045.5,505.4 1048.9,506.4 1052.3,507.2 1055.7,508.1 1059.0,509.0 1062.4,509.9 1065.8,511.0 1069.2,512.3 1072.6,513.7 1076.0,515.3 1079.3,517.0 1082.7,518.7 1086.1,520.4 1089.5,522.0 1092.9,523.6 1096.3,525.1 1099.6,526.5 1103.0,527.9 1106.4,529.1 1109.8,530.3 1113.2,531.3 1116.6,532.3 1119.9,533.2 1123.3,534.0 1126.7,534.8 1130.1,535.4 1133.5,536.0 1136.9,536.5 1140.2,537.0 1143.6,537.4 1147.0,537.9 1150.4,538.4 1153.8,539.1 1157.2,539.8 1160.5,540.6 1163.9,541.5 1167.3,542.5 1170.7,543.5 1174.1,544.6 1177.5,545.8 1180.8,547.0 1184.2,548.2 1187.6,549.5 1191.0,550.8 1194.4,552.1 1197.8,553.3 1201.1,554.6 1204.5,555.9 1207.9,557.1 1211.3,558.3 1214.7,559.5 1218.1,560.7 1221.4,561.9 1224.8,563.0 1228.2,564.2 1231.6,565.3 1235.0,566.3 1238.4,567.4 1241.7,568.4 1245.1,569.3 1248.5,570.3 1251.9,571.2 1255.3,572.0 1258.7,572.8 1262.0,573.6 1265.4,574.3 1268.8,575.0 1272.2,575.7 1275.6,576.3 1279.0,576.9 1282.3,577.5 1285.7,578.1 1289.1,578.8 1292.5,579.5 1295.9,580.2 1299.3,581.1 1302.6,582.0 1306.0,583.1 1309.4,584.2 1312.8,585.5 1316.2,586.9 1319.6,588.3 1322.9,589.9 1326.3,591.5 1329.7,593.1 1333.1,594.8 1336.5,596.6 1339.9,598.3 1343.2,599.9 1346.6,601.3 1350.0,602.3 1353.4,603.0 1356.8,603.2 1360.2,603.2 1363.6,602.9 1366.9,602.3 1370.3,601.6 1373.7,600.8 1377.1,600.0 1380.5,599.1 1383.9,598.2 1387.2,597.5 1390.6,596.9 1394.0,596.5 1397.4,596.2 1400.8,596.1 1404.2,596.0 1407.5,596.1 1410.9,596.2 1414.3,596.4 1417.7,596.5 1421.1,596.7 1424.5,596.8 1427.8,596.8 1431.2,596.8 1434.6,596.6 1438.0,596.3 1441.4,595.9 1444.8,595.4 1448.1,594.9 1451.5,594.3 1454.9,593.7 1458.3,593.0 1461.7,592.4 1465.1,591.7 1468.4,591.0 1471.8,590.3 1475.2,589.6 1478.6,588.9 1482.0,588.2 1485.4,587.5 1488.7,586.8 1492.1,586.1 1495.5,585.5 1498.9,584.8 1502.3,584.1 1505.7,583.5 1509.0,582.9 1512.4,582.3 1515.8,581.7 1519.2,581.1 1522.6,580.5 1526.0,580.0 1529.3,579.5 1532.7,579.0 1536.1,578.5 1539.5,578.1 1542.9,577.6 1546.3,577.2 1549.6,576.9 1553.0,576.5 1556.4,576.2 1559.8,576.0 1563.2,575.7 1566.6,575.5 1569.9,575.3 1573.3,575.2 1576.7,575.1 1580.1,575.0 1583.5,575.0 1586.9,575.0 1590.2,575.0 1593.6,575.1 1596.5,575.2"/>
<polyline fill="none" stroke="#2a6db8" stroke-width="1.25" stroke-linejoin="round" points="0.0,168.7 3.4,171.3 6.8,173.9 10.2,176.6 13.5,179.3 16.9,182.1 20.3,184.9 23.7,187.7 27.1,190.6 30.5,193.5 33.8,196.3 37.2,199.2 40.6,202.1 44.0,204.9 47.4,207.8 50.8,210.5 54.1,213.3 57.5,216.0 60.9,218.6 64.3,221.2 67.7,223.7 71.1,226.1 74.4,228.5 77.8,230.7 81.2,232.9 84.6,234.9 88.0,236.8 91.4,238.6 94.7,240.2 98.1,241.7 101.5,243.1 104.9,244.3 108.3,245.4 111.7,246.3 115.0,247.2 118.4,248.0 121.8,248.7 125.2,249.4 128.6,250.0 132.0,250.7 135.3,251.3 138.7,252.0 142.1,252.6 145.5,253.4 148.9,254.2 152.3,255.1 155.6,256.1 159.0,257.2 162.4,258.3 165.8,259.5 169.2,260.7 172.6,261.9 175.9,263.2 179.3,264.5 182.7,265.7 186.1,267.0 189.5,268.2 192.9,269.4 196.2,270.5 199.6,271.5 203.0,272.5 206.4,273.5 209.8,274.3 213.2,275.0 216.5,275.7 219.9,276.2 223.3,276.6 226.7,277.0 230.1,277.2 233.5,277.5 236.8,277.7 240.2,277.9 243.6,278.1 247.0,278.4 250.4,278.8 253.8,279.2 257.1,279.8 260.5,280.4 263.9,281.1 267.3,282.0 270.7,282.9 274.1,284.0 277.4,285.2 280.8,286.5 284.2,288.0 287.6,289.6 291.0,291.2 294.4,292.9 297.7,294.7 301.1,296.4 304.5,298.2 307.9,299.9 311.3,301.5 314.7,302.9 318.0,304.2 321.4,305.2 324.8,306.1 328.2,306.9 331.6,307.5 335.0,308.1 338.4,308.7 341.7,309.3 345.1,310.0 348.5,310.8 351.9,311.8 355.3,312.9 358.7,314.1 362.0,315.5 365.4,316.8 368.8,318.2 372.2,319.6 375.6,320.9 379.0,322.1 382.3,323.2 385.7,324.2 389.1,325.1 392.5,326.0 395.9,326.9 399.3,327.7 402.6,328.7 406.0,329.7 409.4,330.8 412.8,332.0 416.2,333.3 419.6,334.7 422.9,336.1 426.3,337.5 429.7,339.0 433.1,340.5 436.5,342.0 439.9,343.4 443.2,344.9 446.6,346.3 450.0,347.6 453.4,348.9 456.8,350.1 460.2,351.3 463.5,352.5 466.9,353.7 470.3,354.8 473.7,356.0 477.1,357.2 480.5,358.4 483.8,359.6 487.2,360.9 490.6,362.1 494.0,363.4 497.4,364.7 500.8,366.1 504.1,367.4 507.5,368.7 510.9,370.1 514.3,371.4 517.7,372.7 521.1,374.1 524.4,375.4 527.8,376.7 531.2,377.9 534.6,379.2 538.0,380.4 541.4,381.6 544.7,382.7 548.1,383.9 551.5,384.9 554.9,385.9 558.3,386.9 561.7,387.8 565.0,388.7 568.4,389.5 571.8,390.3 575.2,390.9 578.6,391.6 582.0,392.1 585.3,392.6 588.7,393.0 592.1,393.3 595.5,393.5 598.9,393.7 602.3,393.7 605.6,393.8 609.0,393.8 612.4,393.7 615.8,393.6 619.2,393.6 622.6,393.5 625.9,393.4 629.3,393.3 632.7,393.2 636.1,393.2 639.5,393.2 642.9,393.2 646.2,393.3 649.6,393.5 653.0,393.8 656.4,394.1 659.8,394.6 663.2,395.1 666.5,395.8 669.9,396.5 673.3,397.3 676.7,398.2 680.1,399.2 683.5,400.2 686.9,401.2 690.2,402.3 693.6,403.4 697.0,404.5 700.4,405.7 703.8,406.8 707.2,407.9 710.5,409.0 713.9,410.1 717.3,411.1 720.7,412.1 724.1,413.1 727.5,413.9 730.8,414.7 734.2,415.5 737.6,416.1 741.0,416.7 744.4,417.3 747.8,417.9 751.1,418.4 754.5,419.0 757.9,419.6 761.3,420.3 764.7,421.0 768.1,421.8 771.4,422.6 774.8,423.6 778.2,424.7 781.6,425.8 785.0,427.1 788.4,428.4 791.7,429.8 795.1,431.2 798.5,432.7 801.9,434.3 805.3,435.8 808.7,437.4 812.0,439.0 815.4,440.5 818.8,442.1 822.2,443.6 825.6,445.1 829.0,446.6 832.3,448.0 835.7,449.4 839.1,450.7 842.5,451.9 845.9,453.0 849.3,454.1 852.6,455.0 856.0,455.8 859.4,456.5 862.8,457.1 866.2,457.7 869.6,458.2 872.9,458.7 876.3,459.2 879.7,459.7 883.1,460.2 886.5,460.7 889.9,461.4 893.2,462.0 896.6,462.8 900.0,463.5 903.4,464.3 906.8,465.2 910.2,466.1 913.5,467.0 916.9,467.9 920.3,468.8 923.7,469.7 927.1,470.7 930.5,471.6 933.8,472.4 937.2,473.3 940.6,474.1 944.0,474.9 947.4,475.6 950.8,476.3 954.1,476.9 957.5,477.4 960.9,477.8 964.3,478.2 967.7,478.5 971.1,478.8 974.4,479.0 977.8,479.2 981.2,479.4 984.6,479.5 988.0,479.6 991.4,479.7 994.7,479.8 998.1,479.9 1001.5,480.1 1004.9,480.2 1008.3,480.4 1011.7,480.6 1015.1,480.8 1018.4,481.1 1021.8,481.4 1025.2,481.7 1028.6,482.1 1032.0,482.5 1035.4,482.9 1038.7,483.4 1042.1,483.8 1045.5,484.3 1048.9,484.8 1052.3,485.3 1055.7,485.8 1059.0,486.3 1062.4,486.8 1065.8,487.3 1069.2,487.8 1072.6,488.4 1076.0,488.9 1079.3,489.4 1082.7,489.8 1086.1,490.3 1089.5,490.8 1092.9,491.2 1096.3,491.7 1099.6,492.1 1103.0,492.5 1106.4,492.9 1109.8,493.3 1113.2,493.6 1116.6,494.0 1119.9,494.3 1123.3,494.6 1126.7,494.9 1130.1,495.1 1133.5,495.4 1136.9,495.8 1140.2,496.1 1143.6,496.5 1147.0,496.9 1150.4,497.4 1153.8,498.0 1157.2,498.6 1160.5,499.2 1163.9,500.0 1167.3,500.7 1170.7,501.5 1174.1,502.2 1177.5,503.0 1180.8,503.8 1184.2,504.6 1187.6,505.3 1191.0,506.0 1194.4,506.8 1197.8,507.5 1201.1,508.1 1204.5,508.8 1207.9,509.5 1211.3,510.1 1214.7,510.8 1218.1,511.4 1221.4,512.1 1224.8,512.7 1228.2,513.3 1231.6,514.0 1235.0,514.6 1238.4,515.3 1241.7,515.9 1245.1,516.6 1248.5,517.2 1251.9,517.9 1255.3,518.6 1258.7,519.3 1262.0,520.0 1265.4,520.8 1268.8,521.5 1272.2,522.3 1275.6,523.1 1279.0,524.0 1282.3,524.8 1285.7,525.7 1289.1,526.6 1292.5,527.6 1295.9,528.6 1299.3,529.6 1302.6,530.6 1306.0,531.7 1309.4,532.8 1312.8,534.0 1316.2,535.2 1319.6,536.5 1322.9,537.8 1326.3,539.1 1329.7,540.4 1333.1,541.8 1336.5,543.1 1339.9,544.3 1343.2,545.5 1346.6,546.6 1350.0,547.6 1353.4,548.4 1356.8,549.1 1360.2,549.7 1363.6,550.2 1366.9,550.6 1370.3,550.9 1373.7,551.2 1377.1,551.4 1380.5,551.6 1383.9,551.8 1387.2,552.0 1390.6,552.2 1394.0,552.4 1397.4,552.8 1400.8,553.1 1404.2,553.6 1407.5,554.2 1410.9,554.9 1414.3,555.7 1417.7,556.6 1421.1,557.5 1424.5,558.4 1427.8,559.3 1431.2,560.1 1434.6,560.9 1438.0,561.6 1441.4,562.1 1444.8,562.5 1448.1,562.7 1451.5,562.8 1454.9,562.9 1458.3,562.9 1461.7,562.8 1465.1,562.8 1468.4,562.7 1471.8,562.6 1475.2,562.5 1478.6,562.5 1482.0,562.5 1485.4,562.5 1488.7,562.6 1492.1,562.6 1495.5,562.7 1498.9,562.9 1502.3,563.0 1505.7,563.2 1509.0,563.4 1512.4,563.6 1515.8,563.8 1519.2,564.1 1522.6,564.4 1526.0,564.7 1529.3,565.0 1532.7,565.4 1536.1,565.8 1539.5,566.2 1542.9,566.7 1546.3,567.1 1549.6,567.6 1553.0,568.1 1556.4,568.6 1559.8,569.1 1563.2,569.6 1566.6,570.1 1569.9,570.6 1573.3,571.1 1576.7,571.6 1580.1,572.1 1583.5,572.5 1586.9,573.0 1590.2,573.4 1593.6,573.8 1596.5,574.2"/>
<polyline fill="none" stroke="#ff22ee" stroke-width="1.25" stroke-linejoin="round" points="0.0,19.5 3.4,20.3 6.8,20.9 10.2,21.6 13.5,22.2 16.9,22.8 20.3,23.4 23.7,23.9 27.1,24.4 30.5,25.0 33.8,25.4 37.2,25.9 40.6,26.3 44.0,26.7 47.4,27.1 50.8,27.5 54.1,27.9 57.5,28.2 60.9,28.5 64.3,28.8 67.7,29.1 71.1,29.4 74.4,29.7 77.8,29.9 81.2,30.2 84.6,30.4 88.0,30.6 91.4,30.8 94.7,31.0 98.1,31.2 101.5,31.3 104.9,31.5 108.3,31.7 111.7,31.8 115.0,31.9 118.4,32.1 121.8,32.2 125.2,32.3 128.6,32.5 132.0,32.6 135.3,32.8 138.7,32.9 142.1,33.1 145.5,33.3 148.9,33.6 152.3,33.9 155.6,34.2 159.0,34.6 162.4,35.1 165.8,35.6 169.2,36.1 172.6,36.8 175.9,37.5 179.3,38.3 182.7,39.1 186.1,40.0 189.5,40.9 192.9,41.9 196.2,42.8 199.6,43.8 203.0,44.8 206.4,45.8 209.8,46.8 213.2,47.8 216.5,48.7 219.9,49.6 223.3,50.5 226.7,51.4 230.1,52.1 233.5,52.9 236.8,53.6 240.2,54.3 243.6,55.0 247.0,55.7 250.4,56.5 253.8,57.3 257.1,58.2 260.5,59.2 263.9,60.3 267.3,61.5 270.7,62.8 274.1,64.2 277.4,65.7 280.8,67.3 284.2,69.0 287.6,70.7 291.0,72.4 294.4,74.2 297.7,76.0 301.1,77.8 304.5,79.6 307.9,81.4 311.3,83.1 314.7,84.9 318.0,86.6 321.4,88.4 324.8,90.1 328.2,91.9 331.6,93.6 335.0,95.4 338.4,97.3 341.7,99.2 345.1,101.2 348.5,103.3 351.9,105.5 355.3,107.8 358.7,110.2 362.0,112.7 365.4,115.1 368.8,117.5 372.2,119.8 375.6,122.0 379.0,124.0 382.3,126.0 385.7,127.8 389.1,129.5 392.5,131.1 395.9,132.6 399.3,134.1 402.6,135.6 406.0,137.2 409.4,138.9 412.8,140.6 416.2,142.5 419.6,144.5 422.9,146.6 426.3,148.7 429.7,151.0 433.1,153.2 436.5,155.5 439.9,157.8 443.2,160.0 446.6,162.1 450.0,164.2 453.4,166.2 456.8,168.1 460.2,169.9 463.5,171.7 466.9,173.4 470.3,175.1 473.7,176.8 477.1,178.4 480.5,180.1 483.8,181.7 487.2,183.4 490.6,185.1 494.0,186.9 497.4,188.7 500.8,190.7 504.1,192.7 507.5,194.8 510.9,196.9 514.3,199.1 517.7,201.2 521.1,203.4 524.4,205.6 527.8,207.7 531.2,209.8 534.6,211.8 538.0,213.8 541.4,215.8 544.7,217.7 548.1,219.6 551.5,221.4 554.9,223.2 558.3,225.0 561.7,226.8 565.0,228.6 568.4,230.3 571.8,232.0 575.2,233.7 578.6,235.4 582.0,237.0 585.3,238.7 588.7,240.3 592.1,241.9 595.5,243.5 598.9,245.2 602.3,246.8 605.6,248.5 609.0,250.2 612.4,252.0 615.8,253.7 619.2,255.5 622.6,257.4 625.9,259.2 629.3,261.1 632.7,262.9 636.1,264.6 639.5,266.4 642.9,268.0 646.2,269.6 649.6,271.2 653.0,272.7 656.4,274.2 659.8,275.6 663.2,277.1 666.5,278.6 669.9,280.1 673.3,281.7 676.7,283.3 680.1,285.0 683.5,286.7 686.9,288.6 690.2,290.5 693.6,292.5 697.0,294.6 700.4,296.7 703.8,298.8 707.2,300.9 710.5,303.0 713.9,305.1 717.3,307.2 720.7,309.2 724.1,311.2 727.5,313.0 730.8,314.8 734.2,316.5 737.6,318.0 741.0,319.5 744.4,320.9 747.8,322.2 751.1,323.5 754.5,324.7 757.9,325.9 761.3,327.1 764.7,328.2 768.1,329.3 771.4,330.5 774.8,331.7 778.2,332.8 781.6,334.0 785.0,335.2 788.4,336.5 791.7,337.7 795.1,338.9 798.5,340.2 801.9,341.4 805.3,342.6 808.7,343.9 812.0,345.1 815.4,346.3 818.8,347.6 822.2,348.8 825.6,350.0 829.0,351.1 832.3,352.3 835.7,353.4 839.1,354.6 842.5,355.7 845.9,356.7 849.3,357.8 852.6,358.8 856.0,359.7 859.4,360.7 862.8,361.6 866.2,362.4 869.6,363.3 872.9,364.1 876.3,364.8 879.7,365.6 883.1,366.3 886.5,367.0 889.9,367.7 893.2,368.4 896.6,369.1 900.0,369.8 903.4,370.5 906.8,371.3 910.2,372.0 913.5,372.7 916.9,373.5 920.3,374.2 923.7,375.0 927.1,375.8 930.5,376.6 933.8,377.4 937.2,378.3 940.6,379.1 944.0,379.9 947.4,380.8 950.8,381.7 954.1,382.6 957.5,383.4 960.9,384.3 964.3,385.3 967.7,386.2 971.1,387.1 974.4,388.0 977.8,388.9 981.2,389.7 984.6,390.6 988.0,391.4 991.4,392.1 994.7,392.9 998.1,393.6 1001.5,394.2 1004.9,394.9 1008.3,395.5 1011.7,396.0 1015.1,396.6 1018.4,397.2 1021.8,397.8 1025.2,398.4 1028.6,399.0 1032.0,399.6 1035.4,400.2 1038.7,400.9 1042.1,401.6 1045.5,402.3 1048.9,403.0 1052.3,403.7 1055.7,404.4 1059.0,405.2 1062.4,405.9 1065.8,406.7 1069.2,407.5 1072.6,408.2 1076.0,409.0 1079.3,409.9 1082.7,410.7 1086.1,411.5 1089.5,412.3 1092.9,413.2 1096.3,414.0 1099.6,414.8 1103.0,415.7 1106.4,416.6 1109.8,417.4 1113.2,418.3 1116.6,419.2 1119.9,420.0 1123.3,420.9 1126.7,421.8 1130.1,422.7 1133.5,423.6 1136.9,424.5 1140.2,425.4 1143.6,426.4 1147.0,427.3 1150.4,428.2 1153.8,429.1 1157.2,430.0 1160.5,431.0 1163.9,431.9 1167.3,432.8 1170.7,433.8 1174.1,434.7 1177.5,435.6 1180.8,436.6 1184.2,437.5 1187.6,438.5 1191.0,439.4 1194.4,440.4 1197.8,441.3 1201.1,442.2 1204.5,443.2 1207.9,444.1 1211.3,445.0 1214.7,446.0 1218.1,446.9 1221.4,447.8 1224.8,448.6 1228.2,449.5 1231.6,450.3 1235.0,451.1 1238.4,451.9 1241.7,452.7 1245.1,453.4 1248.5,454.1 1251.9,454.8 1255.3,455.4 1258.7,456.0 1262.0,456.5 1265.4,457.1 1268.8,457.5 1272.2,458.0 1275.6,458.4 1279.0,458.9 1282.3,459.3 1285.7,459.7 1289.1,460.1 1292.5,460.5 1295.9,461.0 1299.3,461.4 1302.6,461.9 1306.0,462.4 1309.4,463.0 1312.8,463.6 1316.2,464.3 1319.6,465.0 1322.9,465.7 1326.3,466.5 1329.7,467.3 1333.1,468.2 1336.5,469.0 1339.9,469.9 1343.2,470.8 1346.6,471.7 1350.0,472.7 1353.4,473.6 1356.8,474.5 1360.2,475.3 1363.6,476.2 1366.9,477.0 1370.3,477.8 1373.7,478.6 1377.1,479.3 1380.5,480.0 1383.9,480.7 1387.2,481.3 1390.6,481.9 1394.0,482.6 1397.4,483.2 1400.8,483.8 1404.2,484.4 1407.5,485.0 1410.9,485.7 1414.3,486.3 1417.7,487.0 1421.1,487.7 1424.5,488.4 1427.8,489.2 1431.2,490.0 1434.6,490.8 1438.0,491.6 1441.4,492.3 1444.8,493.1 1448.1,493.8 1451.5,494.4 1454.9,495.0 1458.3,495.5 1461.7,496.1 1465.1,496.6 1468.4,497.1 1471.8,497.6 1475.2,498.2 1478.6,498.9 1482.0,499.6 1485.4,500.3 1488.7,501.0 1492.1,501.8 1495.5,502.6 1498.9,503.4 1502.3,504.3 1505.7,505.1 1509.0,505.9 1512.4,506.6 1515.8,507.4 1519.2,508.1 1522.6,508.7 1526.0,509.3 1529.3,509.9 1532.7,510.4 1536.1,510.8 1539.5,511.2 1542.9,511.6 1546.3,512.0 1549.6,512.4 1553.0,512.7 1556.4,513.1 1559.8,513.5 1563.2,513.9 1566.6,514.4 1569.9,514.9 1573.3,515.5 1576.7,516.1 1580.1,516.8 1583.5,517.6 1586.9,518.5 1590.2,519.4 1593.6,520.5 1596.5,521.5"/>
<text class="ax" x="1644.5" y="32.3">1.1950</text>
<text class="ax" x="1644.5" y="71.1">1.1900</text>
<text class="ax" x="1644.5" y="109.9">1.1850</text>
<text class="ax" x="1644.5" y="148.8">1.1800</text>
<text class="ax" x="1644.5" y="187.6">1.1750</text>
<text class="ax" x="1644.5" y="226.4">1.1700</text>
<text class="ax" x="1644.5" y="265.2">1.1650</text>
<text class="ax" x="1644.5" y="304.0">1.1600</text>
<text class="ax" x="1644.5" y="342.8">1.1550</text>
<text class="ax" x="1644.5" y="381.7">1.1500</text>
<text class="ax" x="1644.5" y="420.5">1.1450</text>
<text class="ax" x="1644.5" y="459.3">1.1400</text>
<text class="ax" x="1644.5" y="498.1">1.1350</text>
<text class="ax" x="1644.5" y="536.9">1.1300</text>
<text class="ax" x="1644.5" y="575.8">1.1250</text>
<text class="ax" x="1644.5" y="614.6">1.1200</text>
<text class="ax" x="1644.5" y="653.4">1.1150</text>
<text class="ax" x="1644.5" y="692.2">1.1100</text>
<text class="ax" x="33.5" y="719" text-anchor="middle">Sep</text>
<text class="ax" x="67.5" y="719" text-anchor="middle">10</text>
<text class="ax" x="101.5" y="719" text-anchor="middle">17</text>
<text class="ax" x="135.5" y="719" text-anchor="middle">24</text>
<text class="ax" x="169.5" y="719" text-anchor="middle">Oct</text>
<text class="ax" x="196.5" y="719" text-anchor="middle">5</text>
<text class="ax" x="223.5" y="719" text-anchor="middle">11</text>
<text class="ax" x="250.5" y="719" text-anchor="middle">17</text>
<text class="ax" x="277.5" y="719" text-anchor="middle">23</text>
<text class="ax" x="304.5" y="719" text-anchor="middle">29</text>
<text class="ax" x="324.5" y="719" text-anchor="middle">Nov</text>
<text class="ax" x="358.5" y="719" text-anchor="middle">8</text>
<text class="ax" x="392.5" y="719" text-anchor="middle">15</text>
<text class="ax" x="426.5" y="719" text-anchor="middle">22</text>
<text class="ax" x="473.5" y="719" text-anchor="middle">Dec</text>
<text class="ax" x="507.5" y="719" text-anchor="middle">10</text>
<text class="ax" x="541.5" y="719" text-anchor="middle">17</text>
<text class="ax" x="575.5" y="719" text-anchor="middle">24</text>
<text class="ax" x="615.5" y="719" text-anchor="middle">Jan</text>
<text class="ax" x="642.5" y="719" text-anchor="middle">7</text>
<text class="ax" x="669.5" y="719" text-anchor="middle">11</text>
<text class="ax" x="696.5" y="719" text-anchor="middle">17</text>
<text class="ax" x="723.5" y="719" text-anchor="middle">23</text>
<text class="ax" x="750.5" y="719" text-anchor="middle">29</text>
<text class="ax" x="771.5" y="719" text-anchor="middle">Feb</text>
<text class="ax" x="805.5" y="719" text-anchor="middle">8</text>
<text class="ax" x="838.5" y="719" text-anchor="middle">15</text>
<text class="ax" x="872.5" y="719" text-anchor="middle">22</text>
<text class="ax" x="906.5" y="719" text-anchor="middle">Mar</text>
<text class="ax" x="940.5" y="719" text-anchor="middle">8</text>
<text class="ax" x="974.5" y="719" text-anchor="middle">15</text>
<text class="ax" x="1007.5" y="719" text-anchor="middle">22</text>
<text class="ax" x="1048.5" y="719" text-anchor="middle">Apr</text>
<text class="ax" x="1082.5" y="719" text-anchor="middle">8</text>
<text class="ax" x="1116.5" y="719" text-anchor="middle">15</text>
<text class="ax" x="1149.5" y="719" text-anchor="middle">22</text>
<text class="ax" x="1197.5" y="719" text-anchor="middle">May</text>
<text class="ax" x="1231.5" y="719" text-anchor="middle">8</text>
<text class="ax" x="1264.5" y="719" text-anchor="middle">15</text>
<text class="ax" x="1298.5" y="719" text-anchor="middle">22</text>
<text class="ax" x="1332.5" y="719" text-anchor="middle">29</text>
<text class="ax" x="1352.5" y="719" text-anchor="middle">Jun</text>
<text class="ax" x="1379.5" y="719" text-anchor="middle">7</text>
<text class="ax" x="1407.5" y="719" text-anchor="middle">13</text>
<text class="ax" x="1434.5" y="719" text-anchor="middle">19</text>
<text class="ax" x="1461.5" y="719" text-anchor="middle">25</text>
<text class="ax" x="1488.5" y="719" text-anchor="middle">Jul</text>
<text class="ax" x="1515.5" y="719" text-anchor="middle">5</text>
<text class="ax" x="1542.5" y="719" text-anchor="middle">11</text>
<text class="ax" x="1569.5" y="719" text-anchor="middle">17</text>
<text class="ax" x="1596.5" y="719" text-anchor="middle">23</text>
<text class="ax" x="1623.5" y="719" text-anchor="middle">29</text>
<line x1="0" y1="646.5" x2="1636" y2="646.5" stroke="#2d4a78" stroke-width="1" shape-rendering="crispEdges"/>
<polygon points="1636,646.5 1640,643 1640,650" fill="#2d4a78"/>
<rect x="1639.5" y="639.5" width="48" height="14.5" fill="#2d4a78"/>
<text x="1645" y="652" style="font-size:11px;font-weight:bold;fill:#fff">1.11535</text>
<rect x="5" y="5" width="80" height="22" fill="#000" fill-opacity="0.6"/>
<rect x="5" y="5" width="3" height="22" fill="#000"/>
<text class="lg" x="16.5" y="20.5">EUR/USD</text>
<rect x="5" y="32" width="85" height="22" fill="#000" fill-opacity="0.6"/>
<rect x="5" y="32" width="3" height="22" fill="#ff9a1f"/>
<text class="lg" x="16.5" y="47.5">SMA (50,0)</text>
<rect x="5" y="59" width="91" height="22" fill="#000" fill-opacity="0.6"/>
<rect x="5" y="59" width="3" height="22" fill="#1f5fbf"/>
<text class="lg" x="16.5" y="74.5">SMA (100,0)</text>
<rect x="5" y="86" width="91" height="22" fill="#000" fill-opacity="0.6"/>
<rect x="5" y="86" width="3" height="22" fill="#ff22ee"/>
<text class="lg" x="16.5" y="101.5">SMA (200,0)</text>
</svg></body></html>
